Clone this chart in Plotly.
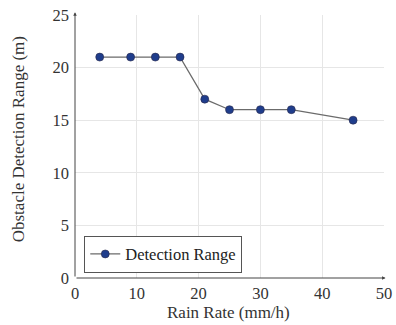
import plotly.graph_objects as go

rain_rate = [4, 9, 13, 17, 21, 25, 30, 35, 45]
detection_range = [21, 21, 21, 21, 17, 16, 16, 16, 15]
x_ticks = [0, 10, 20, 30, 40, 50]
y_ticks = [0, 5, 10, 15, 20, 25]

ff = "Liberation Serif"
txt = "#333"

fig = go.Figure()
fig.add_trace(go.Scatter(
    x=rain_rate, y=detection_range, mode="lines+markers",
    name="Detection Range",
    line=dict(color="#6b6b6b", width=1.2),
    marker=dict(color="#1f3d8c", size=8, line=dict(color="#2a2a4a", width=0.6)),
))

fig.update_layout(
    width=396, height=325,
    margin=dict(l=75, r=12, t=15, b=47, autoexpand=False),
    paper_bgcolor="white", plot_bgcolor="white",
    font=dict(family=ff, size=16, color=txt),
    showlegend=True,
    legend=dict(x=0.03, y=0.02, xanchor="left", yanchor="bottom",
                bordercolor="#555", borderwidth=1, bgcolor="white",
                font=dict(family=ff, size=16.5, color="#222"),
                itemwidth=30, tracegroupgap=0),
    xaxis=dict(range=[0, 50], tickvals=x_ticks, showgrid=True, gridcolor="#e6e6e6",
               gridwidth=1, zeroline=False, showline=False, ticks="",
               automargin=False, ticklabelstandoff=3,
               tickfont=dict(family=ff, size=16.5, color=txt)),
    yaxis=dict(range=[0, 25], tickvals=y_ticks, showgrid=True, gridcolor="#e6e6e6",
               gridwidth=1, zeroline=False, showline=False, ticks="",
               automargin=False, ticklabelstandoff=5,
               tickfont=dict(family=ff, size=16.5, color=txt)),
)

# axis titles
fig.add_annotation(text="Rain Rate (mm/h)", xref="paper", yref="paper",
                   x=0.498, y=-0.133, xanchor="center", yanchor="middle",
                   showarrow=False, font=dict(family=ff, size=17, color=txt))
fig.add_annotation(text="Obstacle Detection Range (m)", xref="paper", yref="paper",
                   x=-0.184, y=0.528, xanchor="center", yanchor="middle", textangle=-90,
                   showarrow=False, font=dict(family=ff, size=17, color=txt))

# axis arrows
fig.add_annotation(x=0, y=25.25, ax=0, ay=0, xref="x", yref="y", axref="x", ayref="y",
                   showarrow=True, arrowhead=2, arrowsize=0.7, arrowwidth=1, arrowcolor="#444", text="")
fig.add_annotation(x=50.25, y=0, ax=0, ay=0, xref="x", yref="y", axref="x", ayref="y",
                   showarrow=True, arrowhead=2, arrowsize=0.7, arrowwidth=1, arrowcolor="#444", text="")

fig.write_html("out.html")
